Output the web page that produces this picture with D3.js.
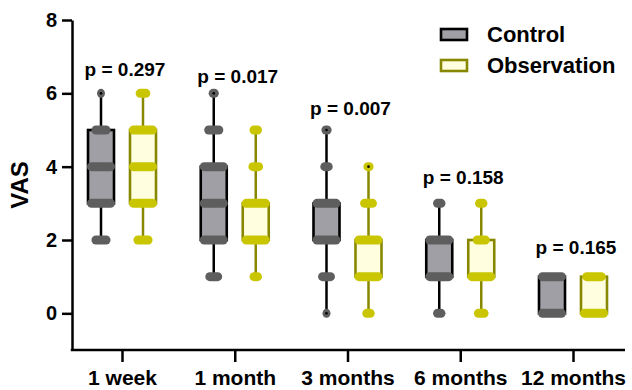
<!DOCTYPE html>
<html>
<head>
<meta charset="utf-8">
<script src="https://cdn.jsdelivr.net/npm/d3@7"></script>
<style>
  html, body { margin: 0; padding: 0; background: #fff; }
  svg { display: block; font-family: "Liberation Sans", Arial, sans-serif; font-weight: bold; }
</style>
</head>
<body>
<svg id="chart" width="632" height="390"></svg>
<script>
// ---------- data ----------
const groups = ["1 week", "1 month", "3 months", "6 months", "12 months"];
const seriesNames = ["Control", "Observation"];
const yTicks = [0, 2, 4, 6, 8];

// box statistics per group: [min, q1, median, q3, max]
const controlStats = [
  [2, 3, 4, 5, 6],
  [1, 2, 3, 4, 6],
  [0, 2, 2, 3, 5],
  [0, 1, 1, 2, 3],
  [0, 0, 0, 1, 1]
];
const observationStats = [
  [2, 3, 4, 5, 6],
  [1, 2, 2, 3, 5],
  [0, 1, 1, 2, 4],
  [0, 1, 1, 2, 3],
  [0, 0, 0, 1, 1]
];
// individual points: [value, count] per group
const controlPoints = [
  [[2, 6], [3, 10], [4, 10], [5, 6], [6, 1]],
  [[1, 5], [2, 10], [3, 10], [4, 10], [5, 6], [6, 2]],
  [[0, 1], [1, 5], [2, 10], [3, 10], [4, 3], [5, 2]],
  [[0, 3], [1, 10], [2, 10], [3, 3]],
  [[0, 10], [1, 10]]
];
const observationPoints = [
  [[2, 6], [3, 10], [4, 10], [5, 10], [6, 4]],
  [[1, 3], [2, 10], [3, 10], [4, 4], [5, 3]],
  [[0, 3], [1, 10], [2, 10], [3, 5], [4, 2]],
  [[0, 4], [1, 10], [2, 5], [3, 3]],
  [[0, 10], [1, 8]]
];
const pLabels = ["p = 0.297", "p = 0.017", "p = 0.007", "p = 0.158", "p = 0.165"];
const pLabelY = [6.48, 6.29, 5.42, 3.52, 1.62];

// ---------- styles ----------
const styles = {
  Control:     { fill: "#a09fa5", stroke: "#000000", dot: "#5e5e5e" },
  Observation: { fill: "#ffffe0", stroke: "#888800", dot: "#c9c600" }
};

const svg = d3.select("#chart");
const axisLeftX = 72, axisBottomY = 350, axisRight = 625;

const y = d3.scaleLinear().domain([-1, 8]).range([350, 20]);
const x = d3.scalePoint().domain(groups).range([122, 573]);
const xs = d3.scalePoint().domain(seriesNames).range([-21, 21]);
const boxW = 26;
const dotW = d3.scaleLinear().domain([1, 10]).range([8, 28]).clamp(true);
const dotH = 9;

// ---------- boxes ----------
const series = [
  { name: "Control", stats: controlStats, points: controlPoints },
  { name: "Observation", stats: observationStats, points: observationPoints }
];

series.forEach(s => {
  const st = styles[s.name];
  const g = svg.append("g");
  groups.forEach((grp, i) => {
    const cx = x(grp) + xs(s.name);
    const [mn, q1, md, q3, mx] = s.stats[i];
    // whiskers
    if (mx > q3) g.append("line").attr("x1", cx).attr("x2", cx).attr("y1", y(q3)).attr("y2", y(mx))
      .attr("stroke", st.stroke).attr("stroke-width", 2.5);
    if (mn < q1) g.append("line").attr("x1", cx).attr("x2", cx).attr("y1", y(q1)).attr("y2", y(mn))
      .attr("stroke", st.stroke).attr("stroke-width", 2.5);
    // box
    g.append("rect").attr("x", cx - boxW / 2).attr("y", y(q3)).attr("width", boxW).attr("height", y(q1) - y(q3))
      .attr("fill", st.fill).attr("stroke", st.stroke).attr("stroke-width", 2.6);
    // median
    g.append("line").attr("x1", cx - boxW / 2).attr("x2", cx + boxW / 2).attr("y1", y(md)).attr("y2", y(md))
      .attr("stroke", st.stroke).attr("stroke-width", 2.5);
    // points
    s.points[i].forEach(([v, c]) => {
      const w = dotW(c);
      g.append("rect").attr("x", cx - w / 2).attr("y", y(v) - dotH / 2).attr("width", w).attr("height", dotH)
        .attr("rx", dotH / 2).attr("ry", dotH / 2).attr("fill", st.dot);
      if (c <= 2) {
        g.append("circle").attr("cx", cx).attr("cy", y(v)).attr("r", 1.3).attr("fill", "#000");
      }
    });
  });
});

// ---------- axes ----------
const yAxis = d3.axisLeft(y).tickValues(yTicks).tickSize(10).tickSizeOuter(0).tickPadding(5);
const gy = svg.append("g").attr("transform", `translate(${axisLeftX},0)`).call(yAxis);
gy.select(".domain").attr("stroke-width", 2.5);
gy.selectAll(".tick line").attr("stroke-width", 2.5);
gy.selectAll(".tick text").attr("font-size", 20).attr("font-weight", "bold").attr("fill", "#000")
  .attr("font-family", "Liberation Sans, Arial, sans-serif");

const xAxis = d3.axisBottom(x).tickSize(12).tickSizeOuter(0).tickPadding(8);
const gx = svg.append("g").attr("transform", `translate(0,${axisBottomY})`).call(xAxis);
gx.select(".domain").remove();
gx.append("line").attr("x1", axisLeftX - 1.25).attr("x2", axisRight).attr("y1", 0).attr("y2", 0)
  .attr("stroke", "#000").attr("stroke-width", 2.5);
gx.selectAll(".tick line").attr("stroke-width", 2.5);
gx.selectAll(".tick text").attr("font-size", 21).attr("font-weight", "bold").attr("fill", "#000")
  .attr("font-family", "Liberation Sans, Arial, sans-serif");

// y axis title
svg.append("text").attr("transform", "translate(28,185) rotate(-90)").attr("text-anchor", "middle")
  .attr("font-size", 24).attr("fill", "#000").text("VAS");

// p labels
svg.append("g").selectAll("text").data(groups).join("text")
  .attr("x", d => x(d) + 3).attr("y", (d, i) => y(pLabelY[i]))
  .attr("text-anchor", "middle").attr("font-size", 19).attr("fill", "#000")
  .text((d, i) => pLabels[i]);

// legend
const legend = svg.append("g");
seriesNames.forEach((n, i) => {
  const st = styles[n];
  const ly = 29 + i * 31;
  legend.append("rect").attr("x", 441).attr("y", ly).attr("width", 26).attr("height", 11)
    .attr("fill", st.fill).attr("stroke", st.stroke).attr("stroke-width", 2.6);
  legend.append("text").attr("x", 487).attr("y", ly + 13).attr("font-size", 22).attr("fill", "#000").text(n);
});
</script>
</body>
</html>
